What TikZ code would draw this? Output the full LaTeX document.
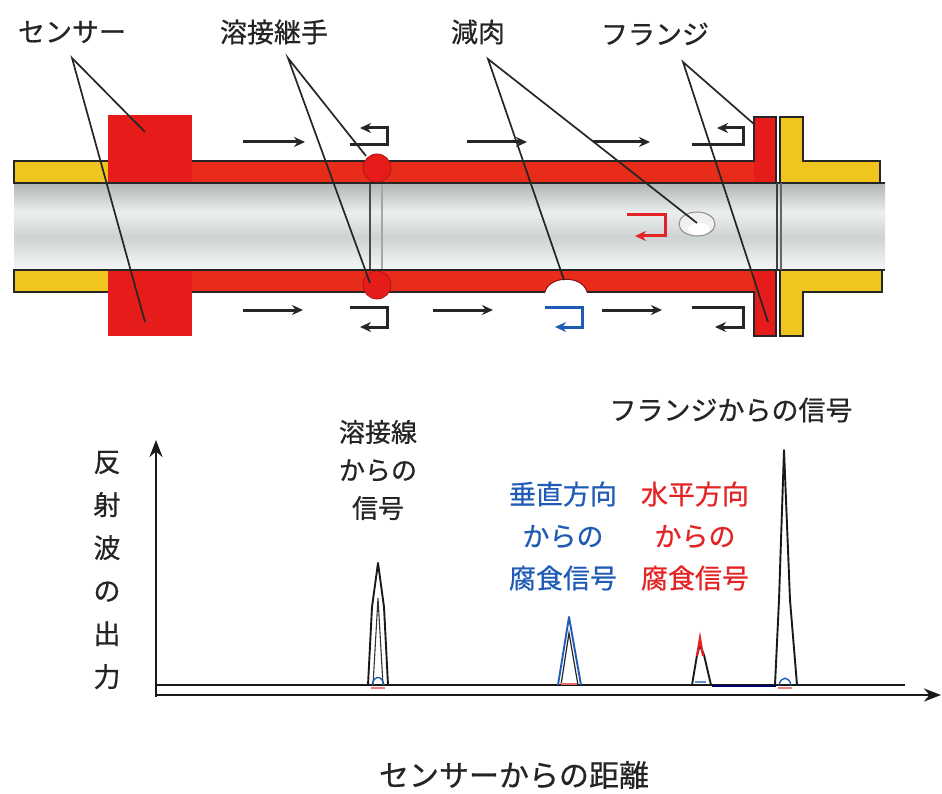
\documentclass[tikz,border=0pt]{standalone}
\usepackage{fontspec}
\setmainfont{Noto Sans CJK JP}[FakeBold=0.6]
\usetikzlibrary{arrows.meta}

\definecolor{pipered}{RGB}{230,28,26}
\definecolor{bandred}{RGB}{232,44,26}
\definecolor{pipeyellow}{RGB}{240,198,30}
\definecolor{sigblue}{RGB}{32,92,182}
\definecolor{sigred}{RGB}{228,36,36}
\definecolor{inkgrey}{RGB}{36,36,36}
\definecolor{pipedark}{RGB}{88,98,96}
\definecolor{pipemid}{RGB}{165,172,170}
\definecolor{pipemidb}{RGB}{205,210,210}
\definecolor{pipelight}{RGB}{236,239,239}

% bore of the pipe, dark rims with a bright streak near the bottom
\pgfdeclareverticalshading{pipeshade}{100bp}{%
  color(0bp)=(pipedark); color(8bp)=(pipemid); color(18bp)=(white);
  color(30bp)=(pipelight); color(44bp)=(pipemidb); color(58bp)=(pipelight);
  color(78bp)=(pipemid); color(100bp)=(pipedark)}

\tikzset{
  lbl/.style={font=\fontsize{27}{30}\selectfont, text=inkgrey, inner sep=0pt},
  callout/.style={draw=black!85, line width=1.7pt},
  outline/.style={draw=black!85, line width=1.3pt},
  flow/.style={line width=3pt, draw=black!85, -{Stealth[length=11pt,width=10pt]}},
  axis/.style={line width=2.8pt, draw=black!90, -{Stealth[length=17pt,width=13pt]}},
  peak/.style={line width=1.9pt, draw=black!90, line join=round},
}

\begin{document}
\begin{tikzpicture}[x=1pt,y=-1pt]
\useasboundingbox (0,0) rectangle (942,794);
\fill[white] (0,0) rectangle (942,794);

% ---------- pipe bore ----------
\shade[shading=pipeshade] (14,183) rectangle (885,270);

% weld seam in the bore
\draw[black!70, line width=1.2pt] (370,183) -- (370,270);
\draw[black!35, line width=1.2pt] (382,183) -- (382,270);

% ---------- yellow pipe wall left of the sensor ----------
\filldraw[outline, fill=pipeyellow] (108,161) -- (14,161) -- (14,183) -- (108,183);
\filldraw[outline, fill=pipeyellow] (108,270) -- (14,270) -- (14,292) -- (108,292);

% ---------- red wall (inspected section) ----------
\fill[bandred] (108,161) rectangle (754,183);
\fill[bandred] (108,270) rectangle (754,292);
\fill[pipered] (754,117) rectangle (776,183);
\fill[pipered] (754,270) rectangle (776,336);
% sensor collar
\fill[pipered] (108,115) rectangle (192,161);
\fill[pipered] (108,292) rectangle (192,336);
\fill[pipered] (108,161) rectangle (192,183);
\fill[pipered] (108,270) rectangle (192,292);

\draw[outline] (192,161) -- (754,161) -- (754,117) -- (776,117) -- (776,183);
\draw[outline] (192,292) -- (545,292);
\draw[outline] (587,292) -- (754,292) -- (754,336) -- (776,336) -- (776,270);
\draw[outline] (14,183) -- (885,183);
\draw[outline] (14,270) -- (885,270);

% weld beads
\filldraw[fill=pipered, draw=pipered!75!black, line width=0.8pt] (377,168) circle (14);
\filldraw[fill=pipered, draw=pipered!75!black, line width=0.8pt] (377,285) circle (14);

% wall thinning on the outside of the lower wall
\fill[white] (545,293) .. controls (549,275) and (583,275) .. (587,293) -- cycle;
\draw[pipered!60!black, line width=1pt] (545,292) .. controls (549,275) and (583,275) .. (587,292);

% ---------- flange (yellow mating half) ----------
\filldraw[outline, fill=pipeyellow] (780,183) -- (780,117) -- (803,117) -- (803,161) -- (880,161) -- (880,183) -- cycle;
\filldraw[outline, fill=pipeyellow] (780,270) -- (882,270) -- (882,292) -- (803,292) -- (803,336) -- (780,336) -- cycle;
\draw[black!75, line width=1.1pt] (777,183) -- (777,270);
\draw[black!60, line width=1.1pt] (781,183) -- (781,270);

% corrosion pit on the inner surface
\filldraw[fill=black!6, draw=black!45, line width=1pt] (697,224) ellipse (18 and 12);
\fill[white] (699,229) ellipse (11 and 6);

% ---------- guided-wave arrows ----------
\draw[flow] (243,142) -- (305,142);
\draw[flow] (467,142) -- (527,142);
\draw[flow] (593,142) -- (650,142);
\draw[flow] (350,145) -- (387,145) -- (387,128) -- (360,128);
\draw[flow] (692,145) -- (743,145) -- (743,128) -- (717,128);

\draw[flow] (243,310) -- (303,310);
\draw[flow] (433,310) -- (493,310);
\draw[flow] (602,310) -- (662,310);
\draw[flow] (350,307) -- (387,307) -- (387,327) -- (360,327);
\draw[flow, draw=sigblue] (545,307) -- (582,307) -- (582,327) -- (555,327);
\draw[flow] (692,307) -- (743,307) -- (743,327) -- (715,327);
\draw[flow, draw=sigred] (627,215) -- (665,215) -- (665,236) -- (635,236);

% ---------- part labels with leader lines ----------
\node[lbl] (sensorlbl) at (72,32) {センサー};
\node[lbl] (weldlbl) at (274,32) {溶接継手};
\node[lbl] (thinlbl) at (478,32) {減肉};
\node[lbl] (flangelbl) at (655,34) {フランジ};

\coordinate (sensorapex) at (72,58);
\coordinate (sensortop) at (145,132);
\coordinate (sensorbot) at (145,322);
\coordinate (weldapex) at (288,58);
\coordinate (weldtop) at (366,156);
\coordinate (weldbot) at (370,283);
\coordinate (thinapex) at (488,59);
\coordinate (thinbot) at (564,280);
\coordinate (thinpit) at (697,223);
\coordinate (flangeapex) at (683,62);
\coordinate (flangetop) at (755,125);
\coordinate (flangebot) at (768,322);

\draw[callout] (sensortop) -- (sensorapex) -- (sensorbot);
\draw[callout] (weldtop) -- (weldapex) -- (weldbot);
\draw[callout] (thinpit) -- (thinapex) -- (thinbot);
\draw[callout] (flangetop) -- (flangeapex) -- (flangebot);

% ---------- reflected-signal chart ----------
\coordinate (origin) at (156,697);
\coordinate (ytip) at (156,440);
\coordinate (xtip) at (941,695);
\draw[axis] (origin) -- (ytip);
\draw[axis] (156,695) -- (xtip);

% baseline of the received signal
\draw[line width=2.6pt, black!90] (156,685) -- (905,685);
\draw[line width=2.6pt, black!60!blue] (712,686) -- (776,686);

% weld echo
\draw[peak] (368,685) -- (372,607) -- (378,563) -- (384,607) -- (388,685);
\draw[line width=1.1pt, black!80] (373,685) -- (378,598) -- (383,685);
\draw[sigblue, line width=1.4pt] (372,685) .. controls (374,675) and (382,675) .. (384,685);
\draw[sigred!60, line width=1.4pt] (371,688) -- (385,688);

% vertical-corrosion echo
\draw[peak, draw=sigblue] (558,685) -- (569,617) -- (581,685);
\draw[line width=1.2pt, black!85] (561,685) -- (569,633) -- (578,685);
\draw[sigred!70, line width=1.6pt] (561,684) -- (577,684);

% horizontal-corrosion echo
\draw[peak] (692,685) -- (697,655) -- (700,645) -- (704,655) -- (711,685);
\draw[sigred, line width=2.2pt] (697,656) -- (700,638) -- (703,656);
\draw[sigblue!70, line width=1.2pt] (695,682) -- (706,682);

% flange echo
\draw[peak] (775,685) -- (779,600) -- (784,450) -- (790,600) -- (797,685);
\draw[sigblue, line width=1.4pt] (779,685) .. controls (781,676) and (789,676) .. (791,685);
\draw[sigred!60, line width=1.4pt] (778,688) -- (792,688);

% chart captions
\node[lbl, font=\fontsize{26}{38}\selectfont, align=center] (weldsig) at (378,470)
  {溶接線\\からの\\信号};
\node[lbl, font=\fontsize{27}{42}\selectfont, align=center, text=sigblue] (vertsig) at (563,536)
  {垂直方向\\からの\\腐食信号};
\node[lbl, font=\fontsize{27}{42}\selectfont, align=center, text=sigred] (horizsig) at (695,536)
  {水平方向\\からの\\腐食信号};
\node[lbl] (flangesig) at (731,410) {フランジからの信号};
\node[lbl, font=\fontsize{27}{43}\selectfont, align=center] (ylabel) at (107,570)
  {反\\射\\波\\の\\出\\力};
\node[lbl, font=\fontsize{30}{33}\selectfont] (xlabel) at (514,775) {センサーからの距離};

\end{tikzpicture}
\end{document}
